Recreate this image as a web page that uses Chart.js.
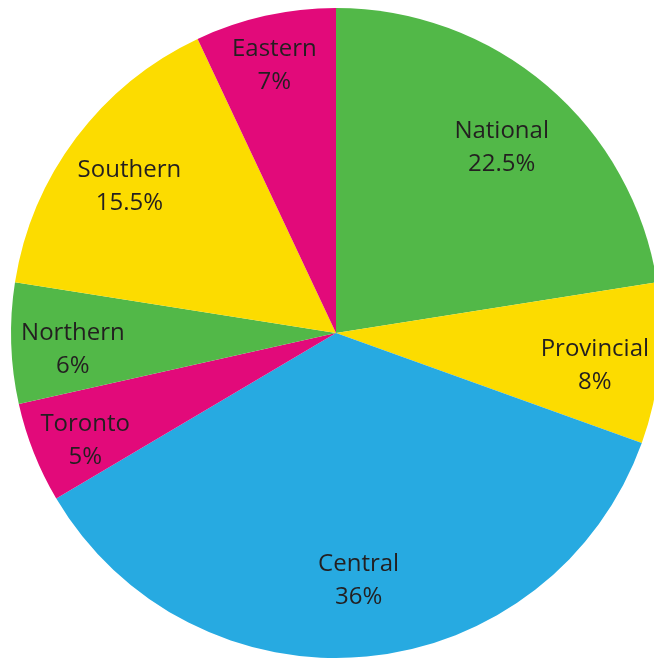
<!DOCTYPE html>
<html>
<head>
<meta charset="utf-8">
<style>
  html, body { margin: 0; padding: 0; background: #fff; overflow: hidden; }
  #wrap { width: 654px; height: 658px; overflow: hidden; position: relative; }
  #box { position: absolute; left: 0; top: 0; width: 672px; height: 666px; }
</style>
<script src="https://cdn.jsdelivr.net/npm/chart.js@4"></script>
</head>
<body>
<div id="wrap"><div id="box"><canvas id="pie"></canvas></div></div>
<script>
// 지역별 비율 (12시 방향부터 시계 방향)
const regions = ["National", "Provincial", "Central", "Toronto", "Northern", "Southern", "Eastern"];
const shares = [22.5, 8, 36, 5, 6, 15.5, 7];
const sliceColors = ["#52b848", "#fcdc00", "#27aae1", "#e20a7a", "#52b848", "#fcdc00", "#e20a7a"];
// 라벨을 놓을 반지름 비율
const labelDist = [0.785, 0.80, 0.74, 0.83, 0.81, 0.795, 0.87];

const sliceLabels = {
  id: "sliceLabels",
  afterDatasetsDraw(chart) {
    const ctx = chart.ctx;
    const arcs = chart.getDatasetMeta(0).data;
    ctx.save();
    ctx.fillStyle = "#231f20";
    ctx.font = "24px 'Open Sans'";
    ctx.textAlign = "center";
    ctx.textBaseline = "middle";
    arcs.forEach((arc, i) => {
      const mid = (arc.startAngle + arc.endAngle) / 2;
      const r = arc.outerRadius * labelDist[i];
      const x = arc.x + Math.cos(mid) * r;
      const y = arc.y + Math.sin(mid) * r + 8;
      ctx.fillText(regions[i], x, y - 16);
      ctx.fillText(shares[i] + "%", x, y + 17);
    });
    ctx.restore();
  }
};

new Chart(document.getElementById("pie").getContext("2d"), {
  type: "pie",
  data: {
    labels: regions,
    datasets: [
      {
        data: shares,
        backgroundColor: sliceColors,
        borderWidth: 0,
      },
    ],
  },
  options: {
    responsive: true,
    maintainAspectRatio: false,
    animation: false,
    layout: { padding: 8 },
    plugins: {
      legend: { display: false },
      tooltip: { enabled: false },
    },
  },
  plugins: [sliceLabels],
});
</script>
</body>
</html>
